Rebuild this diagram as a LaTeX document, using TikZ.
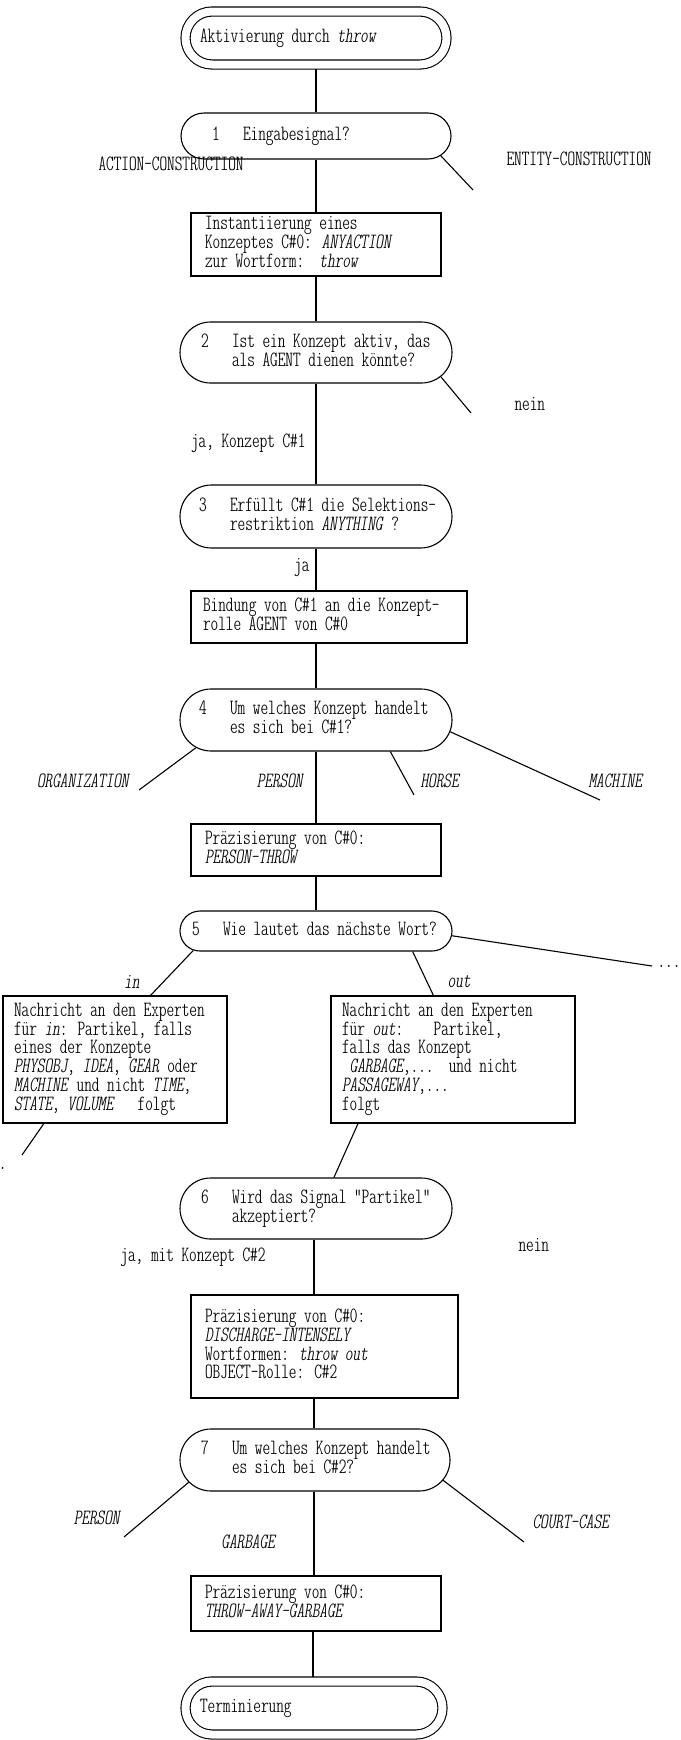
\documentclass[tikz,border=0pt]{standalone}
\usetikzlibrary{shapes.misc}
\newcommand{\tw}{\fontsize{21.8pt}{17.7pt}\usefont{TU}{lmtt}{lc}{n}}
\newcommand{\lbox}[2]{\makebox[#1pt][l]{\begin{tabular}{@{}l@{}}#2\end{tabular}}}
\newcommand{\qbox}[2]{\makebox[#1pt][l]{\begin{tabular}{@{}p{31pt}@{}l@{}}#2\end{tabular}}}
\begin{document}
\begin{tikzpicture}[x=1pt,y=-1pt,line width=1.1pt,
  every node/.style={font=\tw, inner sep=0pt},
  term/.style={draw, rounded rectangle, double, double distance=8pt, outer sep=4.6pt},
  quest/.style={draw, rounded rectangle},
  proc/.style={draw, rectangle},
  lab/.style={anchor=west},
  labr/.style={anchor=east},
  conn/.style={line width=1.1pt}]
\fill[white] (0,0) rectangle (680,1740);
\useasboundingbox (0,0) rectangle (680,1740);
\coordinate (ax1) at (316,0);
\coordinate (ax2) at (314,0);
\coordinate (ax3) at (313,0);
% nodes
\node[term, minimum width=261pt, minimum height=53pt] (start) at (316,38) {\lbox{232}{Aktivierung durch \textit{throw}}};
\node[quest, minimum width=270pt, minimum height=46pt] (n1) at (316,136) {\qbox{208}{1 & Eingabesignal?}};
\node[proc, minimum width=250pt, minimum height=63pt] (b1) at (316,244.5) {\lbox{222}{Instantiierung eines\\Konzeptes C\#0: \textit{ANYACTION}\\zur Wortform:\ \ \textit{throw}}};
\node[quest, minimum width=272pt, minimum height=61pt] (n2) at (316,352.5) {\qbox{230}{2 & Ist ein Konzept aktiv, das\\ & als AGENT dienen könnte?}};
\node[quest, minimum width=272pt, minimum height=63pt] (n3) at (316,516.5) {\qbox{234}{3 & Erfüllt C\#1 die Selektions-\\ & restriktion \textit{ANYTHING} ?}};
\node[proc, minimum width=276pt, minimum height=52pt] (b2) at (329,617) {\lbox{252}{Bindung von C\#1 an die Konzept-\\rolle AGENT von C\#0}};
\node[quest, minimum width=272pt, minimum height=62pt] (n4) at (316,720) {\qbox{234}{4 & Um welches Konzept handelt\\ & es sich bei C\#1?}};
\node[proc, minimum width=250pt, minimum height=52pt] (b3) at (316,850) {\lbox{222}{Präzisierung von C\#0:\\\textit{PERSON-THROW}}};
\node[quest, minimum width=272pt, minimum height=40pt] (n5) at (316,931) {\qbox{248}{5 & Wie lautet das nächste Wort?}};
\node[proc, minimum width=224pt, minimum height=127pt] (b4) at (115,1059.5) {\lbox{202}{Nachricht an den Experten\\für \textit{in}: Partikel, falls\\eines der Konzepte\\\textit{PHYSOBJ}, \textit{IDEA}, \textit{GEAR} oder\\\textit{MACHINE} und nicht \textit{TIME},\\\textit{STATE}, \textit{VOLUME}\ \ \ folgt}};
\node[proc, minimum width=244pt, minimum height=127pt] (b5) at (453,1059.5) {\lbox{222}{Nachricht an den Experten\\für \textit{out}:\ \ \ \ Partikel,\\falls das Konzept\\\ \textit{GARBAGE},...\ \ und nicht\\\textit{PASSAGEWAY},...\\folgt}};
\node[quest, minimum width=272pt, minimum height=61pt] (n6) at (316,1208.5) {\qbox{230}{6 & Wird das Signal "Partikel"\\ & akzeptiert?}};
\node[proc, minimum width=267pt, minimum height=103pt] (b6) at (324.5,1346.5) {\lbox{239}{Präzisierung von C\#0:\\\textit{DISCHARGE-INTENSELY}\\Wortformen: \textit{throw out}\\OBJECT-Rolle: C\#2}};
\node[quest, minimum width=270pt, minimum height=62pt] (n7) at (315,1460) {\qbox{228}{7 & Um welches Konzept handelt\\ & es sich bei C\#2?}};
\node[proc, minimum width=250pt, minimum height=55pt] (b7) at (316,1603.5) {\lbox{222}{Präzisierung von C\#0:\\\textit{THROW-AWAY-GARBAGE}}};
\node[term, minimum width=257pt, minimum height=53pt] (term) at (314,1708) {\lbox{228}{Terminierung}};
% labels
\node[lab] (lA) at (98,164) {ACTION-CONSTRUCTION};
\node[lab] (lE) at (506,159) {ENTITY-CONSTRUCTION};
\node[lab] (lN1) at (514,404) {nein};
\node[labr] (lJ1) at (306,443) {ja, Konzept C\#1};
\node[labr] (lJ2) at (310,568) {ja};
\node[labr] (lO) at (131,781) {\textit{ORGANIZATION}};
\node[labr] (lP) at (305,781) {\textit{PERSON}};
\node[lab] (lH) at (420,781) {\textit{HORSE}};
\node[lab] (lM) at (588,781) {\textit{MACHINE}};
\node[labr] (lin) at (140,982) {\textit{in}};
\node[lab] (lout) at (447,982) {\textit{out}};
\node[lab] (ld1) at (657,966) {...};
\node[labr] (ld2) at (7,1168) {...};
\node[lab] (lN2) at (518,1245) {nein};
\node[labr] (lJ3) at (266,1257) {ja, mit Konzept C\#2};
\node[labr] (lP2) at (122,1518) {\textit{PERSON}};
\node[labr] (lG) at (277,1542) {\textit{GARBAGE}};
\node[lab] (lC) at (532,1522) {\textit{COURT-CASE}};
% free ends
\coordinate (e1) at (473,190);
\coordinate (e2) at (471,413);
\coordinate (o1) at (139,790);
\coordinate (o3) at (414,795);
\coordinate (o4) at (600,800);
\coordinate (d1) at (652,966);
\coordinate (d2) at (22,1155);
\coordinate (p1) at (124,1537);
\coordinate (p2) at (524,1542);
% connectors
\draw[conn] (start.south -| ax1) -- (n1.north -| ax1);
\draw[conn] (n1.south -| ax1) -- (b1.north -| ax1);
\draw[conn] (n1.-9.15) -- (e1);
\draw[conn] (b1.south -| ax1) -- (n2.north -| ax1);
\draw[conn] (n2.south -| ax1) -- (n3.north -| ax1);
\draw[conn] (n2.-11.6) -- (e2);
\draw[conn] (n3.south -| ax1) -- (b2.north -| ax1);
\draw[conn] (b2.south -| ax1) -- (n4.north -| ax1);
\draw[conn] (n4.south -| ax1) -- (b3.north -| ax1);
\draw[conn] (n4.-167.4) -- (o1);
\draw[conn] (n4.-23.9) -- (o3);
\draw[conn] (n4.-5.2) -- (o4);
\draw[conn] (b3.south -| ax1) -- (n5.north -| ax1);
\draw[conn] (n5.-171.8) -- (b4.61.1);
\draw[conn] (n5.-12.8) -- (b5.107.1);
\draw[conn] (n5.-2.3) -- (d1);
\draw[conn] (b4.-138.2) -- (d2);
\draw[conn] (b5.-146.4) -- (n6.60.9);
\draw[conn] (n6.south -| ax2) -- (b6.north -| ax2);
\draw[conn] (b6.south -| ax2) -- (n7.north -| ax2);
\draw[conn] (n7.-170.1) -- (p1);
\draw[conn] (n7.-9.9) -- (p2);
\draw[conn] (n7.south -| ax2) -- (b7.north -| ax2);
\draw[conn] (b7.south -| ax3) -- (term.north -| ax3);
\end{tikzpicture}
\end{document}
